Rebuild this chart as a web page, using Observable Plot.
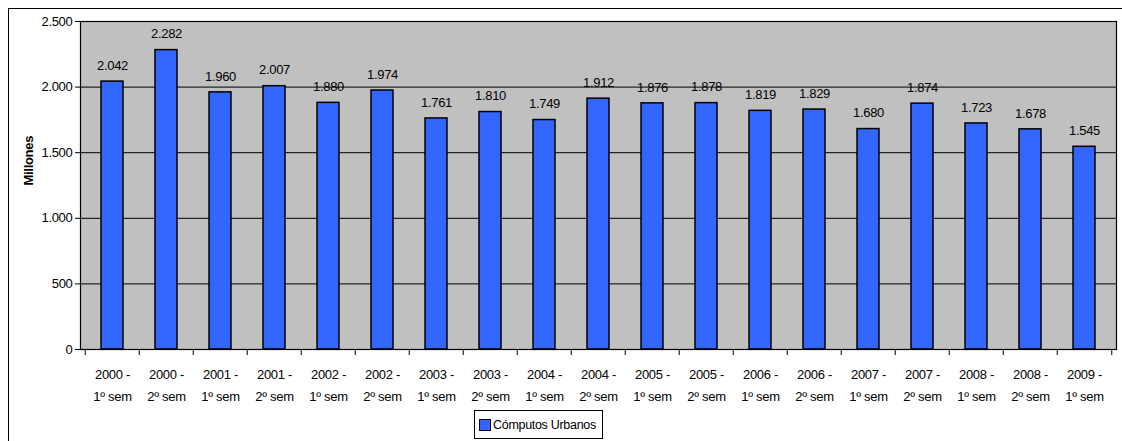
<!DOCTYPE html>
<html>
<head>
<meta charset="utf-8">
<script src="https://cdn.jsdelivr.net/npm/d3@7"></script>
<script src="https://cdn.jsdelivr.net/npm/@observablehq/plot@0.6"></script>
<style>
  html, body { margin: 0; padding: 0; background: #fff; }
  #wrap { position: relative; width: 1122px; height: 441px; overflow: hidden; font-family: "Liberation Sans", Arial, sans-serif; }
  #border { position: absolute; left: 8px; top: 8px; width: 1120px; height: 460px; border: 1px solid #000; box-sizing: border-box; pointer-events: none; }
  #chart svg { display: block; }
  #legend { margin-left: 474px; margin-top: 5px; width: 129px; height: 29px; border: 1px solid #000; box-sizing: border-box; display: flex; align-items: center; font-size: 12.5px; letter-spacing: -0.3px; background: #fff; position: relative; z-index: 1; }
  #legend .sw { width: 12px; height: 12px; background: #3366ff; border: 1px solid #000; margin-left: 4px; margin-right: 2px; box-sizing: border-box; }
</style>
</head>
<body>
<div id="wrap">
  <div id="border"></div>
  <div id="chart"></div>
  <div id="legend"><span class="sw"></span><span>Cómputos Urbanos</span></div>
</div>
<script>
const years = ["2000","2000","2001","2001","2002","2002","2003","2003","2004","2004","2005","2005","2006","2006","2007","2007","2008","2008","2009"];
const semesters = ["1º sem","2º sem","1º sem","2º sem","1º sem","2º sem","1º sem","2º sem","1º sem","2º sem","1º sem","2º sem","1º sem","2º sem","1º sem","2º sem","1º sem","2º sem","1º sem"];
const values = [2042, 2282, 1960, 2007, 1880, 1974, 1761, 1810, 1749, 1912, 1876, 1878, 1819, 1829, 1680, 1874, 1723, 1678, 1545];
const yTicks = [0, 500, 1000, 1500, 2000, 2500];
const seriesName = "Cómputos Urbanos";

const categories = years.map((y, i) => y + " - " + semesters[i]);
const data = categories.map((c, i) => ({cat: c, value: values[i]}));

const locale = d3.formatLocale({decimal: ",", thousands: ".", grouping: [3], currency: ["", ""]});
const fmt = locale.format(",.0f");

const W = 1122, H = 405, mL = 80, mR = 6, mT = 21, mB = 56;
const bw = (W - mL - mR) / categories.length;
const barW = 22.5;
const inset = (bw - barW) / 2;

const plot = Plot.plot({
  width: W,
  height: H,
  marginLeft: mL,
  marginRight: mR,
  marginTop: mT,
  marginBottom: mB,
  style: {fontFamily: "Liberation Sans, Arial, sans-serif", fontSize: "13px", color: "#000", background: "transparent", letterSpacing: "-0.3px"},
  x: {domain: categories, padding: 0, axis: null},
  y: {domain: [0, 2500], axis: null},
  marks: [
    Plot.frame({fill: "#c0c0c0"}),
    Plot.ruleY(yTicks.slice(1, -1), {stroke: "#000", strokeWidth: 1}),
    Plot.barY(data, {x: "cat", y: "value", fill: "#3366ff", stroke: "#000", strokeWidth: 1.5, insetLeft: inset, insetRight: inset}),
    Plot.text(data, {x: "cat", y: "value", text: d => fmt(d.value), dy: -16, fill: "#000", fontSize: 13}),
    Plot.frame({stroke: "#000", strokeWidth: 1.2}),
    Plot.axisY({ticks: yTicks, tickFormat: fmt, tickSize: 5, tickPadding: 3, label: null, stroke: "#000", fontSize: 13}),
    Plot.axisX({ticks: categories, tickSize: 6, tickFormat: () => "", dx: -bw / 2, label: null}),
    Plot.axisX({ticks: categories.slice(-1), tickSize: 6, tickFormat: () => "", dx: bw / 2, label: null}),
    Plot.axisX({ticks: categories, tickSize: 0, tickPadding: 20, tickFormat: (d, i) => years[i] + " -", label: null, fontSize: 13}),
    Plot.axisX({ticks: categories, tickSize: 0, tickPadding: 42, tickFormat: (d, i) => semesters[i], label: null, fontSize: 13}),
    Plot.text(["Millones"], {frameAnchor: "left", rotate: -90, dx: -52, fontWeight: "bold", fontSize: 13, fill: "#000"})
  ]
});
document.getElementById("chart").appendChild(plot);
</script>
</body>
</html>
